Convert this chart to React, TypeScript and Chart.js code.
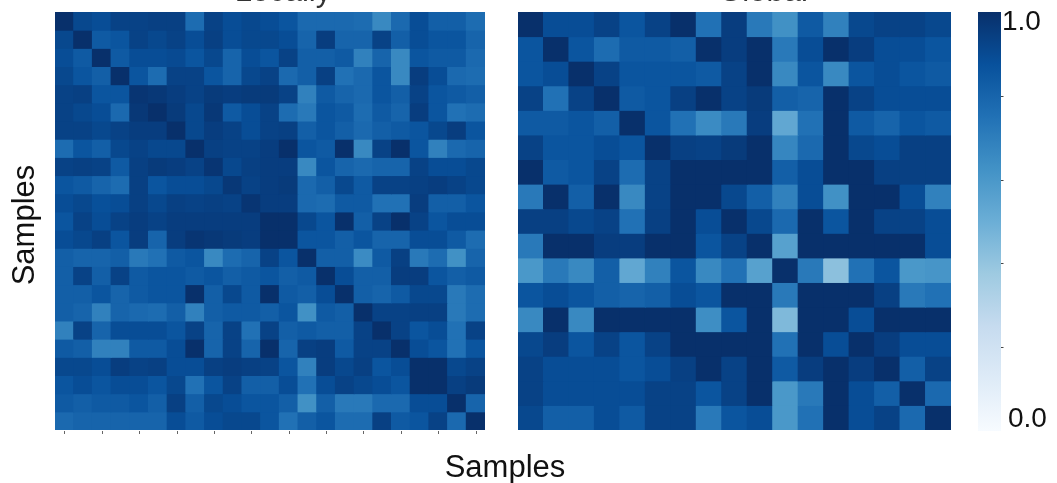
import React, { useEffect, useRef } from 'react';
import { Chart, registerables } from 'chart.js';

Chart.register(...registerables);

const W = 1057;
const H = 483;
const FONT = "'Liberation Sans', Arial, Helvetica, sans-serif";

// ---------- texts ----------
const leftTitle = 'Locally';
const rightTitle = 'Global';
const axisLabel = 'Samples';
const cbarMaxLabel = '1.0';
const cbarMinLabel = '0.0';
const cbarTicks = [0.2, 0.4, 0.6, 0.8];

// ---------- categories ----------
const leftSamples = ['1', '2', '3', '4', '5', '6', '7', '8', '9', '10', '11', '12', '13', '14', '15', '16', '17', '18', '19', '20', '21', '22', '23'];
const rightSamples = ['1', '2', '3', '4', '5', '6', '7', '8', '9', '10', '11', '12', '13', '14', '15', '16', '17'];

// ---------- left matrix (23 x 23) ----------
const leftRow00 = [1.0, 0.91, 0.89, 0.93, 0.93, 0.94, 0.94, 0.77, 0.93, 0.89, 0.91, 0.89, 0.86, 0.78, 0.78, 0.78, 0.77, 0.66, 0.78, 0.89, 0.82, 0.82, 0.77];
const leftRow01 = [0.91, 1.0, 0.84, 0.86, 0.93, 0.91, 0.93, 0.89, 0.94, 0.89, 0.91, 0.91, 0.89, 0.8, 0.95, 0.8, 0.8, 0.93, 0.82, 0.89, 0.86, 0.86, 0.8];
const leftRow02 = [0.89, 0.84, 1.0, 0.84, 0.89, 0.89, 0.9, 0.86, 0.91, 0.8, 0.89, 0.86, 0.93, 0.82, 0.82, 0.84, 0.69, 0.8, 0.66, 0.86, 0.84, 0.84, 0.78];
const leftRow03 = [0.91, 0.86, 0.82, 1.0, 0.86, 0.77, 0.93, 0.93, 0.86, 0.8, 0.91, 0.93, 0.78, 0.82, 0.94, 0.75, 0.78, 0.86, 0.66, 0.95, 0.89, 0.78, 0.77];
const leftRow04 = [0.93, 0.94, 0.86, 0.86, 0.98, 0.97, 0.95, 0.93, 0.96, 0.95, 0.96, 0.96, 0.93, 0.69, 0.84, 0.8, 0.78, 0.86, 0.82, 0.93, 0.86, 0.84, 0.82];
const leftRow05 = [0.93, 0.91, 0.89, 0.78, 0.97, 1.0, 0.96, 0.91, 0.97, 0.84, 0.89, 0.93, 0.77, 0.72, 0.86, 0.84, 0.77, 0.84, 0.8, 0.95, 0.86, 0.75, 0.77];
const leftRow06 = [0.93, 0.93, 0.91, 0.93, 0.95, 0.95, 1.0, 0.91, 0.95, 0.93, 0.89, 0.93, 0.94, 0.82, 0.86, 0.82, 0.78, 0.82, 0.84, 0.86, 0.91, 0.95, 0.86];
const leftRow07 = [0.77, 0.86, 0.82, 0.91, 0.93, 0.91, 0.91, 1.0, 0.94, 0.93, 0.93, 0.95, 1.0, 0.86, 0.84, 1.0, 0.66, 0.93, 1.0, 0.86, 0.69, 0.78, 0.8];
const leftRow08 = [0.93, 0.94, 0.93, 0.84, 0.94, 0.96, 0.95, 0.93, 0.98, 0.91, 0.94, 0.95, 0.95, 0.66, 0.86, 0.8, 0.78, 0.8, 0.8, 0.93, 0.89, 0.89, 0.91];
const leftRow09 = [0.86, 0.84, 0.8, 0.77, 0.94, 0.86, 0.89, 0.89, 0.91, 0.97, 0.93, 0.95, 0.96, 0.78, 0.82, 0.91, 0.84, 0.93, 0.93, 0.94, 0.95, 0.93, 0.91];
const leftRow10 = [0.89, 0.91, 0.88, 0.89, 0.94, 0.91, 0.94, 0.93, 0.94, 0.93, 0.98, 0.95, 0.95, 0.78, 0.77, 0.84, 0.84, 0.75, 0.75, 0.95, 0.82, 0.82, 0.86];
const leftRow11 = [0.86, 0.93, 0.89, 0.93, 0.95, 0.93, 0.95, 0.95, 0.95, 0.95, 0.95, 1.0, 1.0, 0.91, 0.86, 1.0, 0.82, 0.93, 1.0, 0.93, 0.86, 0.89, 0.89];
const leftRow12 = [0.89, 0.91, 0.94, 0.86, 0.95, 0.8, 0.95, 0.98, 0.97, 0.96, 0.95, 1.0, 1.0, 0.86, 0.86, 0.82, 0.86, 0.8, 0.8, 0.89, 0.89, 0.84, 0.77];
const leftRow13 = [0.82, 0.8, 0.8, 0.82, 0.72, 0.75, 0.84, 0.86, 0.66, 0.77, 0.8, 0.93, 0.86, 1.0, 0.82, 0.82, 0.65, 0.84, 0.94, 0.72, 0.77, 0.63, 0.8];
const leftRow14 = [0.82, 0.93, 0.82, 0.93, 0.84, 0.86, 0.86, 0.84, 0.86, 0.82, 0.84, 0.86, 0.82, 0.84, 1.0, 0.89, 0.82, 0.82, 0.95, 0.95, 0.86, 0.82, 0.84];
const leftRow15 = [0.82, 0.82, 0.86, 0.8, 0.84, 0.86, 0.86, 1.0, 0.82, 0.91, 0.84, 1.0, 0.84, 0.82, 0.89, 1.0, 0.82, 0.8, 0.84, 0.91, 0.91, 0.72, 0.77];
const leftRow16 = [0.82, 0.8, 0.69, 0.8, 0.78, 0.77, 0.82, 0.69, 0.82, 0.84, 0.84, 0.82, 0.86, 0.63, 0.84, 0.82, 1.0, 0.93, 0.93, 0.94, 0.94, 0.72, 0.77];
const leftRow17 = [0.69, 0.93, 0.8, 0.89, 0.89, 0.89, 0.86, 0.93, 0.8, 0.93, 0.75, 0.93, 0.82, 0.84, 0.82, 0.82, 0.93, 1.0, 0.93, 0.86, 0.89, 0.75, 0.93];
const leftRow18 = [0.84, 0.82, 0.69, 0.69, 0.84, 0.84, 0.89, 1.0, 0.8, 0.93, 0.8, 1.0, 0.8, 0.94, 0.95, 0.84, 0.93, 0.93, 1.0, 0.89, 0.86, 0.75, 0.86];
const leftRow19 = [0.91, 0.91, 0.89, 0.95, 0.93, 0.94, 0.89, 0.89, 0.94, 0.95, 0.94, 0.93, 0.86, 0.69, 0.95, 0.91, 0.94, 0.86, 0.89, 1.0, 1.0, 0.91, 0.93];
const leftRow20 = [0.86, 0.89, 0.86, 0.89, 0.89, 0.86, 0.91, 0.75, 0.86, 0.93, 0.82, 0.82, 0.89, 0.75, 0.89, 0.93, 0.91, 0.89, 0.86, 1.0, 1.0, 0.94, 0.96];
const leftRow21 = [0.84, 0.82, 0.84, 0.84, 0.86, 0.82, 0.94, 0.82, 0.91, 0.89, 0.86, 0.86, 0.82, 0.63, 0.82, 0.72, 0.72, 0.78, 0.78, 0.89, 0.89, 1.0, 0.8];
const leftRow22 = [0.78, 0.8, 0.8, 0.8, 0.8, 0.8, 0.89, 0.84, 0.89, 0.91, 0.91, 0.86, 0.75, 0.82, 0.86, 0.77, 0.77, 0.94, 0.84, 0.86, 0.93, 0.78, 1.0];

const leftMatrix = [
  leftRow00, leftRow01, leftRow02, leftRow03, leftRow04, leftRow05, leftRow06, leftRow07,
  leftRow08, leftRow09, leftRow10, leftRow11, leftRow12, leftRow13, leftRow14, leftRow15,
  leftRow16, leftRow17, leftRow18, leftRow19, leftRow20, leftRow21, leftRow22,
];

// ---------- right matrix (17 x 17) ----------
const rightRow00 = [1.0, 0.89, 0.89, 0.93, 0.86, 0.93, 1.0, 0.75, 0.95, 0.72, 0.63, 0.84, 0.69, 0.91, 0.93, 0.93, 0.91];
const rightRow01 = [0.86, 1.0, 0.86, 0.77, 0.84, 0.84, 0.82, 1.0, 0.95, 1.0, 0.72, 0.89, 1.0, 0.95, 0.89, 0.89, 0.86];
const rightRow02 = [0.86, 0.89, 1.0, 0.93, 0.86, 0.86, 0.86, 0.84, 0.93, 1.0, 0.66, 0.86, 0.66, 0.86, 0.89, 0.86, 0.84];
const rightRow03 = [0.93, 0.75, 0.93, 1.0, 0.84, 0.86, 0.94, 1.0, 0.93, 0.96, 0.82, 0.8, 1.0, 0.93, 0.89, 0.89, 0.89];
const rightRow04 = [0.84, 0.84, 0.86, 0.82, 1.0, 0.86, 0.75, 0.65, 0.72, 0.95, 0.53, 0.75, 1.0, 0.84, 0.8, 0.86, 0.84];
const rightRow05 = [0.93, 0.86, 0.86, 0.89, 0.86, 1.0, 0.94, 0.93, 0.96, 1.0, 0.67, 0.78, 1.0, 0.91, 0.89, 0.94, 0.94];
const rightRow06 = [1.0, 0.84, 0.86, 0.93, 0.77, 0.93, 1.0, 1.0, 1.0, 1.0, 0.82, 0.89, 1.0, 1.0, 0.94, 0.94, 0.94];
const rightRow07 = [0.72, 1.0, 0.82, 1.0, 0.66, 0.93, 1.0, 1.0, 0.91, 0.82, 0.69, 0.89, 0.63, 1.0, 1.0, 0.89, 0.69];
const rightRow08 = [0.94, 0.94, 0.91, 0.93, 0.75, 0.94, 1.0, 0.89, 1.0, 0.91, 0.78, 1.0, 0.86, 1.0, 0.93, 0.93, 0.89];
const rightRow09 = [0.72, 1.0, 1.0, 0.95, 0.95, 1.0, 1.0, 0.86, 0.93, 1.0, 0.56, 1.0, 1.0, 1.0, 1.0, 1.0, 0.89];
const rightRow10 = [0.6, 0.72, 0.66, 0.82, 0.53, 0.69, 0.86, 0.66, 0.75, 0.56, 1.0, 0.72, 0.42, 0.75, 0.86, 0.6, 0.61];
const rightRow11 = [0.86, 0.89, 0.86, 0.82, 0.8, 0.82, 0.89, 0.86, 1.0, 1.0, 0.72, 1.0, 1.0, 1.0, 0.94, 0.72, 0.75];
const rightRow12 = [0.66, 1.0, 0.66, 1.0, 1.0, 1.0, 1.0, 0.64, 0.86, 1.0, 0.45, 1.0, 1.0, 0.89, 1.0, 1.0, 1.0];
const rightRow13 = [0.91, 0.95, 0.86, 0.93, 0.86, 0.93, 1.0, 1.0, 1.0, 1.0, 0.75, 1.0, 0.89, 1.0, 0.95, 0.89, 0.89];
const rightRow14 = [0.93, 0.89, 0.89, 0.89, 0.86, 0.89, 0.94, 1.0, 0.93, 1.0, 0.84, 0.95, 1.0, 0.95, 1.0, 0.82, 0.93];
const rightRow15 = [0.93, 0.89, 0.89, 0.89, 0.89, 0.93, 0.93, 0.86, 0.93, 1.0, 0.6, 0.72, 1.0, 0.89, 0.82, 1.0, 0.78];
const rightRow16 = [0.91, 0.82, 0.82, 0.89, 0.84, 0.93, 0.93, 0.72, 0.86, 0.89, 0.6, 0.75, 1.0, 0.89, 0.93, 0.78, 1.0];

const rightMatrix = [
  rightRow00, rightRow01, rightRow02, rightRow03, rightRow04, rightRow05, rightRow06, rightRow07,
  rightRow08, rightRow09, rightRow10, rightRow11, rightRow12, rightRow13, rightRow14, rightRow15,
  rightRow16,
];

// ---------- colormap (matplotlib "Blues") ----------
const BLUES: [number, number, number][] = [
  [247, 251, 255], [222, 235, 247], [198, 219, 239], [158, 202, 225], [107, 174, 214],
  [66, 146, 198], [33, 113, 181], [8, 81, 156], [8, 48, 107],
];

function blues(v: number): string {
  const t = Math.min(1, Math.max(0, v)) * (BLUES.length - 1);
  const i = Math.min(BLUES.length - 2, Math.floor(t));
  const f = t - i;
  const a = BLUES[i];
  const b = BLUES[i + 1];
  const c = [0, 1, 2].map((k) => Math.round(a[k] + (b[k] - a[k]) * f));
  return `rgb(${c[0]},${c[1]},${c[2]})`;
}

// ---------- layout (chart areas, page px) ----------
const LEFT_AREA = { left: 55, right: 485, top: 12, bottom: 430 };
const RIGHT_AREA = { left: 518, right: 951, top: 12, bottom: 430 };
const CBAR_AREA = { left: 978, right: 1001, top: 12, bottom: 431 };

function padFor(a: { left: number; right: number; top: number; bottom: number }) {
  return { left: a.left, right: W - a.right, top: a.top, bottom: H - a.bottom };
}

function drawText(
  ctx: CanvasRenderingContext2D,
  text: string,
  x: number,
  y: number,
  size: number,
  align: CanvasTextAlign,
  baseline: CanvasTextBaseline,
  rotate = 0,
  color = '#111',
) {
  ctx.save();
  ctx.translate(x, y);
  if (rotate) ctx.rotate(rotate);
  ctx.font = `${size}px ${FONT}`;
  ctx.fillStyle = color;
  ctx.textAlign = align;
  ctx.textBaseline = baseline;
  ctx.fillText(text, 0, 0);
  ctx.restore();
}

function heatmapConfig(matrix: number[][], labels: string[], area: any, afterDraw: (chart: any) => void): any {
  return {
    type: 'bar',
    data: {
      labels,
      datasets: matrix.map((row, r) => ({
        label: `row ${r + 1}`,
        data: row.map(() => [r, r + 1]),
        backgroundColor: row.map((v) => blues(v)),
        borderWidth: 0,
        barPercentage: 1,
        categoryPercentage: 1,
        grouped: false,
        inflateAmount: 0.5,
      })),
    },
    options: {
      responsive: false,
      animation: false,
      events: [],
      layout: { padding: padFor(area) },
      plugins: { legend: { display: false }, tooltip: { enabled: false }, title: { display: false } },
      scales: {
        x: { type: 'category', display: false, offset: true },
        y: { type: 'linear', display: false, min: 0, max: matrix.length, reverse: true },
      },
    },
    plugins: [{ id: 'annot', afterDraw }],
  };
}

function makeLeft(): any {
  return heatmapConfig(leftMatrix, leftSamples, LEFT_AREA, (chart: any) => {
    const ctx = chart.ctx as CanvasRenderingContext2D;
    const xs = chart.scales.x;
    const bottom = chart.chartArea.bottom;
    ctx.save();
    ctx.strokeStyle = '#666';
    ctx.lineWidth = 1;
    leftSamples.forEach((_, i) => {
      if (i % 2 !== 0) return;
      const x = Math.round(xs.getPixelForValue(i)) + 0.5;
      ctx.beginPath();
      ctx.moveTo(x, bottom + 1);
      ctx.lineTo(x, bottom + 4);
      ctx.stroke();
    });
    ctx.restore();
    drawText(ctx, leftTitle, 283, 1, 31, 'center', 'alphabetic', 0, '#333');
    drawText(ctx, axisLabel, 34, 225, 31, 'center', 'alphabetic', -Math.PI / 2);
    drawText(ctx, axisLabel, 505, 477, 31, 'center', 'alphabetic');
  });
}

function makeRight(): any {
  return heatmapConfig(rightMatrix, rightSamples, RIGHT_AREA, (chart: any) => {
    drawText(chart.ctx, rightTitle, 763, 1, 31, 'center', 'alphabetic', 0, '#333');
  });
}

function makeCbar(): any {
  return {
    type: 'bar',
    data: {
      labels: ['colorbar'],
      datasets: [
        {
          label: 'scale',
          data: [[0, 1]],
          backgroundColor: (c: any) => {
            const chart = c.chart;
            const ys = chart.scales && chart.scales.y;
            if (!ys || !chart.chartArea) return blues(0.5);
            const g = chart.ctx.createLinearGradient(0, ys.getPixelForValue(0), 0, ys.getPixelForValue(1));
            BLUES.forEach((col, i) => g.addColorStop(i / (BLUES.length - 1), `rgb(${col[0]},${col[1]},${col[2]})`));
            return g;
          },
          borderWidth: 0,
          barPercentage: 1,
          categoryPercentage: 1,
        },
      ],
    },
    options: {
      responsive: false,
      animation: false,
      events: [],
      layout: { padding: padFor(CBAR_AREA) },
      plugins: { legend: { display: false }, tooltip: { enabled: false } },
      scales: {
        x: { type: 'category', display: false, offset: true },
        y: { type: 'linear', display: false, min: 0, max: 1 },
      },
    },
    plugins: [
      {
        id: 'cbarAnnot',
        afterDraw: (chart: any) => {
          const ctx = chart.ctx as CanvasRenderingContext2D;
          const ys = chart.scales.y;
          const right = chart.chartArea.right;
          ctx.save();
          ctx.strokeStyle = '#444';
          ctx.lineWidth = 1;
          cbarTicks.forEach((v) => {
            const y = Math.round(ys.getPixelForValue(v)) + 0.5;
            ctx.beginPath();
            ctx.moveTo(right, y);
            ctx.lineTo(right + 2.5, y);
            ctx.stroke();
          });
          ctx.restore();
          drawText(ctx, cbarMaxLabel, 1002, ys.getPixelForValue(1) + 10, 28, 'left', 'middle');
          drawText(ctx, cbarMinLabel, 1008, ys.getPixelForValue(0) - 12, 28, 'left', 'middle');
        },
      },
    ],
  };
}

function ChartCanvas({ make }: { make: () => any }) {
  const ref = useRef<HTMLCanvasElement | null>(null);
  useEffect(() => {
    if (!ref.current) return;
    const chart = new Chart(ref.current, make());
    return () => chart.destroy();
  }, [make]);
  return (
    <canvas
      ref={ref}
      width={W}
      height={H}
      style={{ position: 'absolute', left: 0, top: 0, width: W, height: H }}
    />
  );
}

export default function App() {
  return (
    <div style={{ position: 'absolute', left: 0, top: 0, width: W, height: H, background: '#fff', overflow: 'hidden' }}>
      <ChartCanvas make={makeLeft} />
      <ChartCanvas make={makeRight} />
      <ChartCanvas make={makeCbar} />
    </div>
  );
}
